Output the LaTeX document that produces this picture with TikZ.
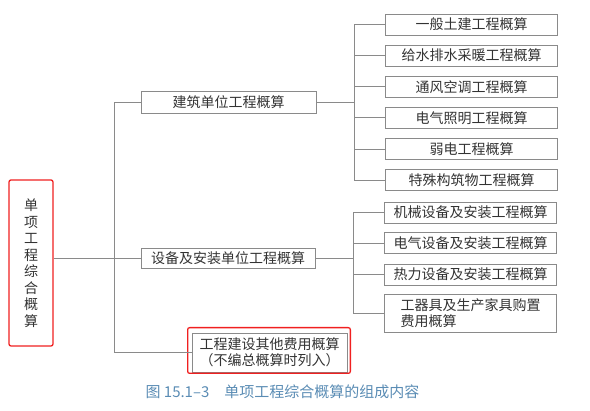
\documentclass[tikz,border=0pt]{standalone}
\usepackage{fontspec}
\newfontfamily\cjk{Noto Sans CJK SC}
\usetikzlibrary{positioning}
\definecolor{linegray}{HTML}{8A8A8A}
\definecolor{textgray}{HTML}{333333}
\definecolor{markred}{HTML}{F02020}
\definecolor{captionblue}{HTML}{5A8CB4}

\begin{document}
\begin{tikzpicture}[
					x = 1pt, y = -1pt,
					every node/.style = {font = \cjk\fontsize{14}{16.5}\selectfont, text = textgray, inner sep = 0pt},
					conn/.style = {draw = linegray, line width = 0.7pt},
					item/.style = {draw = linegray, line width = 0.7pt, minimum width = 172pt, minimum height = 21pt},
					redframe/.style = {draw = markred, line width = 1.3pt, rounded corners = 2pt}
					]

					\useasboundingbox (0,0) rectangle (590,411);

					% root and first level
					\node[redframe, minimum width = 44pt, minimum height = 166pt, align = center] (root) at (31,263)
						{单\\项\\工\\程\\综\\合\\概\\算};
					\node[item, minimum width = 175pt, minimum height = 22pt] (jz) at (228.5,102) {建筑单位工程概算};
					\node[item, minimum width = 174pt, minimum height = 20pt] (sb) at (228,258) {设备及安装单位工程概算};
					\node[item, minimum width = 155pt, minimum height = 39pt, align = center] (qt) at (269.5,352.5)
						{工程建设其他费用概算\\（不编总概算时列入）};
					\draw[redframe] ([shift={(-4,-5)}]qt.north west) rectangle ([shift={(3,1)}]qt.south east);

					\coordinate (t) at (114,0);
					\coordinate (s1) at (354,0);
					\coordinate (s2) at (353,0);

					% second level
					\foreach \txt [count=\i] in {一般土建工程概算, 给水排水采暖工程概算, 通风空调工程概算,
						电气照明工程概算, 弱电工程概算, 特殊构筑物工程概算}
						\node[item] (a\i) at (471.5,{24.5+31.1*(\i-1)}) {\txt};

					\foreach \txt/\y [count=\i] in {机械设备及安装工程概算/212.5, 电气设备及安装工程概算/243,
						热力设备及安装工程概算/274.5}
						\node[item] (b\i) at (470.5,\y) {\txt};
					\node[item, minimum height = 38pt, align = left] (b4) at (470.5,313) {工器具及生产家具购置\\费用概算};

					% connectors
					\draw[conn] (root.east |- sb.west) -- (sb.west);
					\draw[conn] (jz.west) -- (jz.west -| t) -- (qt.west -| t) -- (qt.west);

					\draw[conn] (jz.east) -- (jz.east -| s1);
					\draw[conn] (a1.west -| s1) -- (a6.west -| s1);
					\foreach \i in {1,...,6}
						\draw[conn] (a\i.west) -- (a\i.west -| s1);

					\draw[conn] (sb.east) -- (sb.east -| s2);
					\draw[conn] (b1.west -| s2) -- (b4.west -| s2);
					\foreach \i in {1,...,4}
						\draw[conn] (b\i.west) -- (b\i.west -| s2);

					% caption
					\node[text = captionblue, font = \cjk\fontsize{15}{18}\selectfont] (cap) at (282.5,392)
						{图 15.1–3\quad 单项工程综合概算的组成内容};

				\end{tikzpicture}
\end{document}
